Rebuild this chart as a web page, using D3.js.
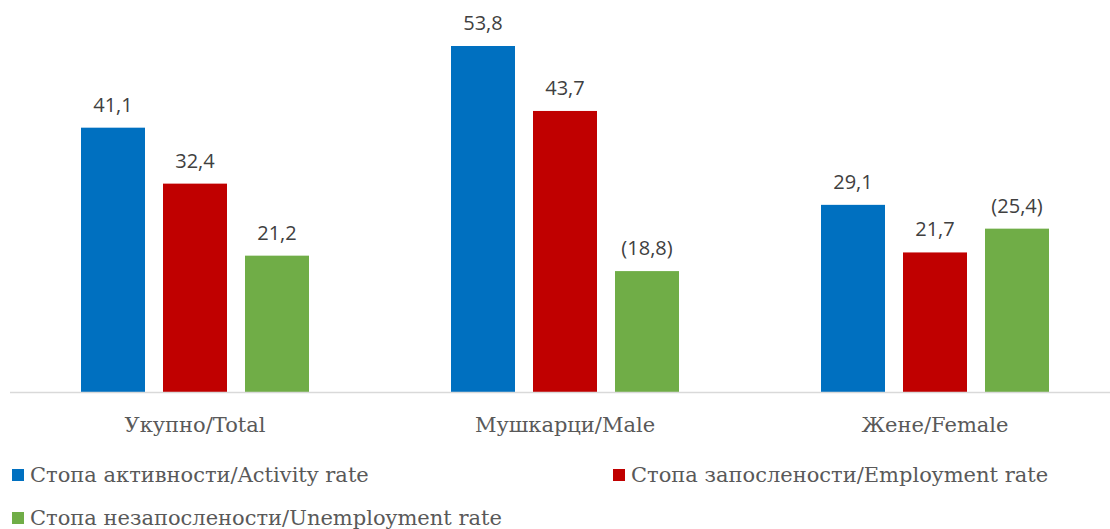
<!DOCTYPE html>
<html>
<head>
<meta charset="utf-8">
<script src="https://cdn.jsdelivr.net/npm/d3@7"></script>
<style>
  body { margin: 0; background: #fff; }
  .cat { font-family: "DejaVu Serif", serif; font-size: 21px; fill: #595959; }
  .lab { font-family: "Open Sans", sans-serif; font-size: 20px; fill: #404040; }
  .leg { font-family: "DejaVu Serif", serif; font-size: 21px; fill: #595959; }
</style>
</head>
<body>
<div id="chart"></div>
<script>
// categories and series
var categories = ['Укупно/Total', 'Мушкарци/Male', 'Жене/Female'];
var seriesNames = ['Стопа активности/Activity rate', 'Стопа запослености/Employment rate', 'Стопа незапослености/Unemployment rate'];
var activity = [41.1, 53.8, 29.1];
var employment = [32.4, 43.7, 21.7];
var unemployment = [21.2, 18.8, 25.4];
var labels = [
  ['41,1', '53,8', '29,1'],
  ['32,4', '43,7', '21,7'],
  ['21,2', '(18,8)', '(25,4)']
];
var colors = ['#0070c0', '#c00000', '#70ad47'];

var W = 1110, H = 529;
var svg = d3.select('#chart').append('svg')
  .attr('width', W)
  .attr('height', H);

var series = [activity, employment, unemployment];

var x0 = d3.scaleBand()
  .domain(categories)
  .range([10, 1120])
  .paddingInner(0)
  .paddingOuter(0);

var x1 = d3.scaleBand()
  .domain(d3.range(series.length))
  .range([0, 228])
  .paddingInner(18 / 82)
  .paddingOuter(0);

var y = d3.scaleLinear()
  .domain([0, 53.8])
  .range([392, 46]);

var data = [];
categories.forEach(function(c, i) {
  series.forEach(function(s, j) {
    data.push({cat: c, s: j, v: s[i], label: labels[j][i]});
  });
});

var off = (x0.bandwidth() - 228) / 2;

svg.selectAll('rect.bar')
  .data(data)
  .enter().append('rect')
  .attr('class', 'bar')
  .attr('x', function(d) { return x0(d.cat) + off + x1(d.s); })
  .attr('width', x1.bandwidth())
  .attr('y', function(d) { return y(d.v); })
  .attr('height', function(d) { return y(0) - y(d.v); })
  .attr('fill', function(d) { return colors[d.s]; });

svg.selectAll('text.lab')
  .data(data)
  .enter().append('text')
  .attr('class', 'lab')
  .attr('text-anchor', 'middle')
  .attr('x', function(d) { return x0(d.cat) + off + x1(d.s) + x1.bandwidth() / 2; })
  .attr('y', function(d) { return y(d.v) - 16; })
  .text(function(d) { return d.label; });

// axis line
svg.append('line')
  .attr('x1', 10).attr('x2', W)
  .attr('y1', y(0) + 0.5).attr('y2', y(0) + 0.5)
  .attr('stroke', '#d9d9d9')
  .attr('stroke-width', 1.5);

svg.selectAll('text.cat')
  .data(categories)
  .enter().append('text')
  .attr('class', 'cat')
  .attr('text-anchor', 'middle')
  .attr('x', function(d) { return x0(d) + x0.bandwidth() / 2; })
  .attr('y', 432)
  .text(function(d) { return d; });

// legend
var legPos = [[12, 475], [613, 475], [12, 518]];
var leg = svg.selectAll('g.leg')
  .data(seriesNames)
  .enter().append('g')
  .attr('class', 'legitem')
  .attr('transform', function(d, i) { return 'translate(' + legPos[i][0] + ',' + legPos[i][1] + ')'; });

leg.append('rect')
  .attr('x', 0).attr('y', -6)
  .attr('width', 12).attr('height', 12)
  .attr('fill', function(d, i) { return colors[i]; });

leg.append('text')
  .attr('class', 'leg')
  .attr('x', 18)
  .attr('y', 7)
  .text(function(d) { return d; });
</script>
</body>
</html>
